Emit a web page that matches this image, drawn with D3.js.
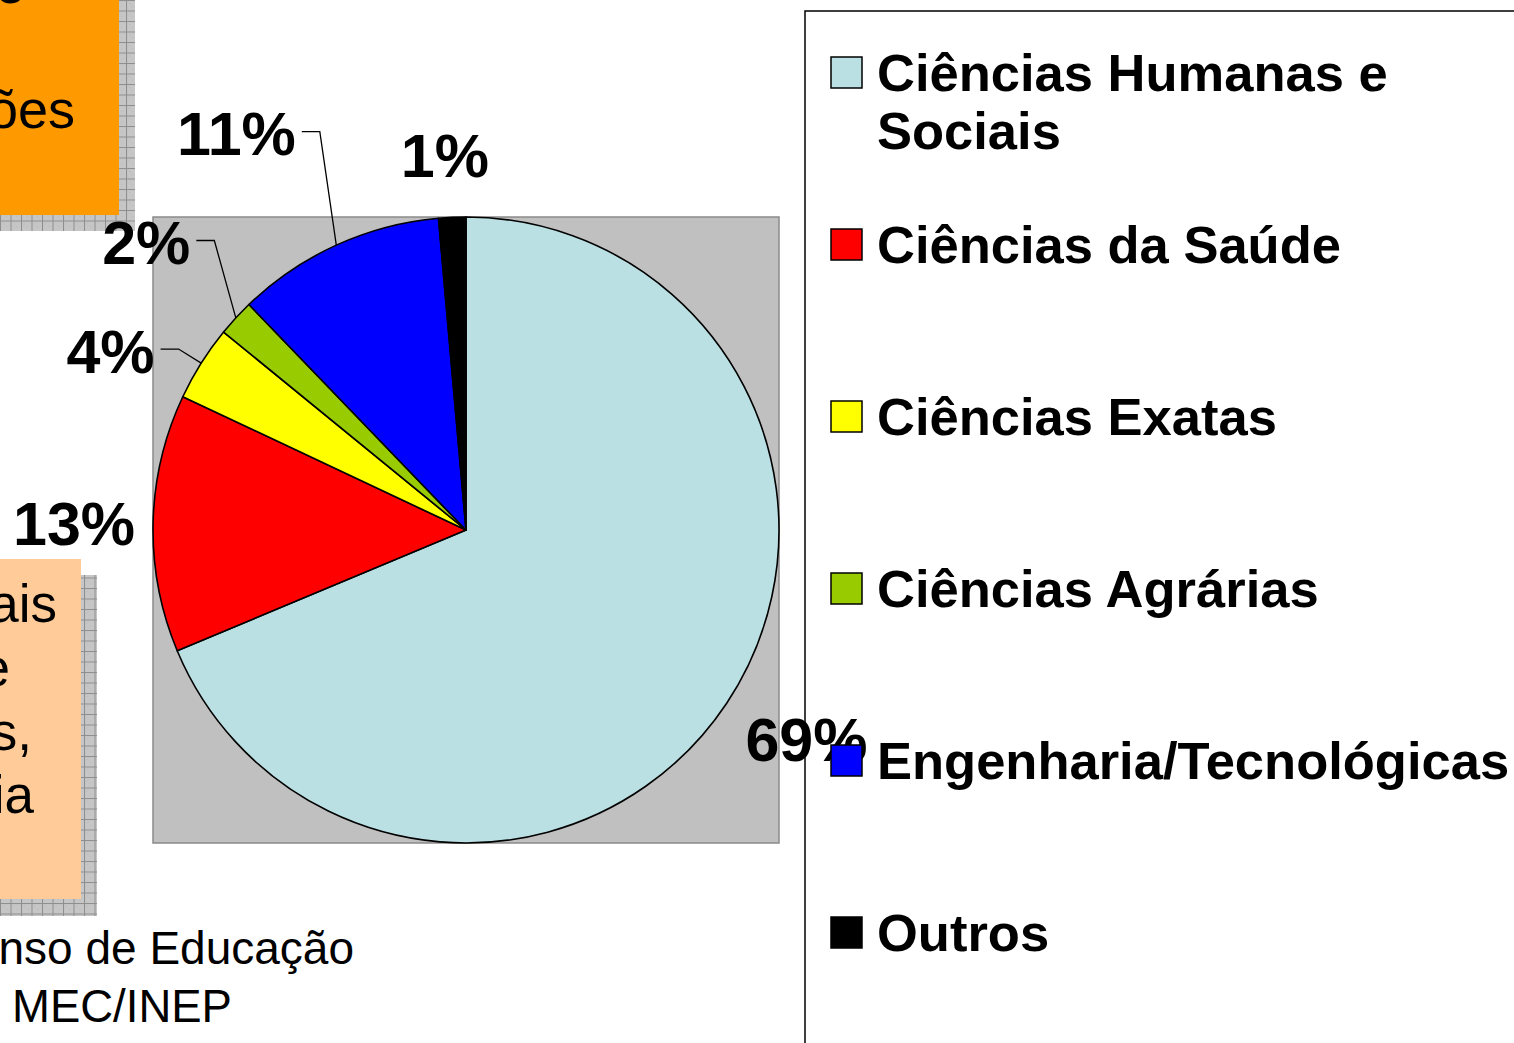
<!DOCTYPE html>
<html>
<head>
<meta charset="utf-8">
<script src="https://cdn.jsdelivr.net/npm/d3@7"></script>
<style>
  html, body { margin: 0; padding: 0; background: #fff; overflow: hidden; }
  svg { display: block; font-family: "Liberation Sans", Arial, sans-serif; }
</style>
</head>
<body>
<svg id="chart" width="1514" height="1043"></svg>
<script>
// ---- data ----
const categories = ["Ciências Humanas e Sociais", "Ciências da Saúde", "Ciências Exatas",
                    "Ciências Agrárias", "Engenharia/Tecnológicas", "Outros"];
const legendLines = [["Ciências Humanas e", "Sociais"], ["Ciências da Saúde"], ["Ciências Exatas"],
                     ["Ciências Agrárias"], ["Engenharia/Tecnológicas"], ["Outros"]];
const shares = [68.7, 13.3, 3.9, 1.9, 10.8, 1.4];
const colors = ["#BBE0E3", "#FF0000", "#FFFF00", "#99CC00", "#0000FF", "#000000"];

// ---- label layout (distance from centre, angle nudge in degrees, leader line) ----
const labelRadius = [400, 392, 398, 430, 458, 375];
const labelNudge = [-2.0, -0.3, -5.5, -0.7, -5.6, -0.7];
const hasLeader = [false, false, true, true, true, false];

const svg = d3.select("#chart");
const defs = svg.append("defs");
const pat = defs.append("pattern").attr("id", "shadowPat")
  .attr("patternUnits", "userSpaceOnUse").attr("width", 10.5).attr("height", 10.5);
pat.append("rect").attr("width", 10.5).attr("height", 10.5).attr("fill", "#c6c6c6");
pat.append("rect").attr("x", 3).attr("y", 3).attr("width", 1).attr("height", 1).attr("fill", "#b4b4b4");
pat.append("rect").attr("x", 6).attr("y", 6).attr("width", 1).attr("height", 1).attr("fill", "#b4b4b4");
pat.append("rect").attr("x", 0).attr("y", 0).attr("width", 10.5).attr("height", 1).attr("fill", "#8e8e8e");
pat.append("rect").attr("x", 0).attr("y", 0).attr("width", 1).attr("height", 10.5).attr("fill", "#8e8e8e");

// ---- background slide fragments (left) ----
// orange box
svg.append("rect").attr("x", -20).attr("y", -20).attr("width", 155).attr("height", 251).attr("fill", "url(#shadowPat)");
svg.append("rect").attr("x", -40).attr("y", -40).attr("width", 159).attr("height", 255).attr("fill", "#FF9900");
svg.append("text").attr("x", 25).attr("y", 3).attr("text-anchor", "end")
  .attr("font-size", 54).attr("fill", "#000").text("e");
svg.append("text").attr("x", 75).attr("y", 128).attr("text-anchor", "end")
  .attr("font-size", 54).attr("fill", "#000").text("ações");
// peach box
svg.append("rect").attr("x", -20).attr("y", 575).attr("width", 117).attr("height", 341).attr("fill", "url(#shadowPat)");
svg.append("rect").attr("x", -40).attr("y", 559).attr("width", 121).attr("height", 340).attr("fill", "#FFCC99");
const peachText = [["Sociais", 57, 622], ["de", 10, 686], ["Regiões,", 32, 750], ["Geografia", 34, 813]];
svg.selectAll("text.peach").data(peachText).join("text").attr("class", "peach")
  .attr("x", d => d[1]).attr("y", d => d[2]).attr("text-anchor", "end")
  .attr("font-size", 53).attr("fill", "#000").text(d => d[0]);
// source note
svg.append("text").attr("x", 354).attr("y", 964).attr("text-anchor", "end")
  .attr("font-size", 46).attr("fill", "#000").text("Fonte: Censo de Educação");
svg.append("text").attr("x", 12).attr("y", 1022).attr("text-anchor", "start")
  .attr("font-size", 45.5).attr("fill", "#000").text("MEC/INEP");

// ---- pie ----
const cx = 466, cy = 530, R = 313;
svg.append("rect").attr("x", cx - R).attr("y", cy - R).attr("width", 2 * R).attr("height", 2 * R)
  .attr("fill", "#C0C0C0").attr("stroke", "#8a8a8a").attr("stroke-width", 1.5);

const data = categories.map((c, i) => ({ cat: c, value: shares[i], i }));
const pie = d3.pie().value(d => d.value).sort(null).startAngle(0).endAngle(2 * Math.PI);
const arcs = pie(data);
const arc = d3.arc().innerRadius(0).outerRadius(R);
const g = svg.append("g").attr("transform", `translate(${cx},${cy})`);
g.selectAll("path.slice").data(arcs).join("path").attr("class", "slice")
  .attr("d", arc).attr("fill", d => colors[d.data.i])
  .attr("stroke", "#000").attr("stroke-width", 1.6).attr("stroke-linejoin", "round");

// ---- legend frame ----
svg.append("rect").attr("x", 805).attr("y", 11).attr("width", 800).attr("height", 1100)
  .attr("fill", "none").attr("stroke", "#000").attr("stroke-width", 1.5);

// ---- data labels ----
const fmt = v => Math.round(v) + "%";
const labelFont = 61, capHalf = 21.5;
const lbl = g.selectAll("g.lbl").data(arcs).join("g").attr("class", "lbl");
lbl.each(function (d) {
  const i = d.data.i;
  const mid = (d.startAngle + d.endAngle) / 2;
  const a = mid + labelNudge[i] * Math.PI / 180;
  const lx = labelRadius[i] * Math.sin(a), ly = -labelRadius[i] * Math.cos(a);
  const t = d3.select(this).append("text").attr("x", lx).attr("y", ly + capHalf)
    .attr("text-anchor", "middle").attr("font-size", labelFont).attr("font-weight", "bold")
    .attr("fill", "#000").text(fmt(d.data.value));
  if (hasLeader[i]) {
    const bb = t.node().getBBox();
    const x0 = bb.x + bb.width + 6, y0 = ly - 2;
    const ex = R * Math.sin(mid), ey = -R * Math.cos(mid);
    d3.select(this).append("path")
      .attr("d", d3.line()([[x0, y0], [x0 + 18, y0], [ex, ey]]))
      .attr("fill", "none").attr("stroke", "#000").attr("stroke-width", 1.3);
  }
});

// ---- legend entries ----
const legX = 831, legBox = 31, legTop = 57, legStep = 172, lineH = 58;
const leg = svg.selectAll("g.leg").data(categories).join("g").attr("class", "leg")
  .attr("transform", (d, i) => `translate(${legX},${legTop + i * legStep})`);
leg.append("rect").attr("width", legBox).attr("height", legBox)
  .attr("fill", (d, i) => colors[i]).attr("stroke", "#000").attr("stroke-width", 1.5);
leg.append("text").attr("x", 46).attr("y", legBox + 3)
  .attr("font-size", 52.5).attr("font-weight", "bold").attr("fill", "#000")
  .each(function (d, i) {
    d3.select(this).selectAll("tspan").data(legendLines[i]).join("tspan")
      .attr("x", 46).attr("dy", (t, j) => j === 0 ? 0 : lineH).text(t => t);
  });
</script>
</body>
</html>
